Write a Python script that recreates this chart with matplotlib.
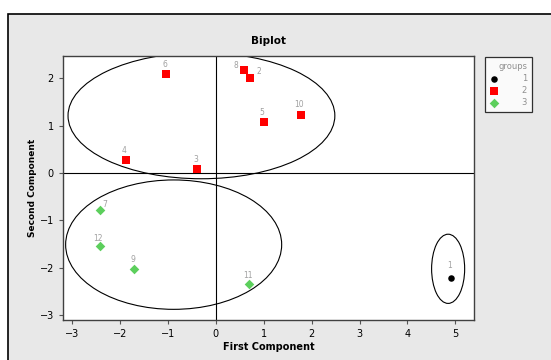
import numpy as np
import matplotlib as mpl
mpl.use('Agg')
import matplotlib.pyplot as plt
from matplotlib.patches import Ellipse, Rectangle

obs_ids = ['1', '2', '3', '4', '5', '6', '7', '8', '9', '10', '11', '12']
pc1 = [4.92, 0.72, -0.40, -1.87, 1.00, -1.03, -2.42, 0.58, -1.70, 1.78, 0.70, -2.42]
pc2 = [-2.21, 2.01, 0.08, 0.28, 1.08, 2.10, -0.77, 2.18, -2.02, 1.22, -2.34, -1.54]
groups = [1, 2, 2, 2, 2, 2, 3, 2, 3, 2, 3, 3]

# label offsets (pixels) for the point numbers
lab_dx = [-2, 9, -1, -2, -2, -2, 5, -8, -1, -2, -1, -2]
lab_dy = [12, 6, 10, 9, 9, 9, 5, 4, 9, 11, 8, 8]

# cluster ellipses: center x, center y, width, height
ell_cx = [-0.30, -0.88, 4.85]
ell_cy = [1.21, -1.51, -2.02]
ell_w = [5.57, 4.51, 0.69]
ell_h = [2.66, 2.73, 1.46]

group_names = ['1', '2', '3']
group_style = {1: dict(marker='o', color='black', s=22),
               2: dict(marker='s', color='#ff0000', s=30),
               3: dict(marker='D', color='#5ccf5c', s=24)}

plt.rcParams['font.family'] = 'DejaVu Sans'

fig = plt.figure(figsize=(5.51, 3.6), dpi=100)
fig.patch.set_facecolor('white')
# grey panel with black frame behind the plot
fig.patches.append(Rectangle((8/551, -0.01), 1.0, 1 - 14/360 + 0.01,
                             transform=fig.transFigure, facecolor='#e8e8e8',
                             edgecolor='black', linewidth=1.2, zorder=-10))

ax = fig.add_axes([63/551, 1 - 320/360, 411/551, 264/360])
ax.set_facecolor('white')

pc1 = np.array(pc1)
pc2 = np.array(pc2)
groups = np.array(groups)

for g in [1, 2, 3]:
    m = groups == g
    st = group_style[g]
    ax.scatter(pc1[m], pc2[m], marker=st['marker'], c=st['color'], s=st['s'],
               linewidths=0, zorder=3, label=group_names[g - 1])

for i, name in enumerate(obs_ids):
    ax.annotate(name, (pc1[i], pc2[i]), xytext=(lab_dx[i], lab_dy[i]),
                textcoords='offset pixels', ha='center', va='center',
                fontsize=5.5, color='#a0a0a0', zorder=4)

for cx, cy, w, h in zip(ell_cx, ell_cy, ell_w, ell_h):
    ax.add_patch(Ellipse((cx, cy), w, h, fill=False, edgecolor='black',
                         linewidth=0.8, zorder=2))

ax.axhline(0, color='black', linewidth=0.8, zorder=1)
ax.axvline(0, color='black', linewidth=0.8, zorder=1)

ax.set_xlim(-3.19, 5.39)
ax.set_ylim(-3.1, 2.47)
ax.set_xticks([-3, -2, -1, 0, 1, 2, 3, 4, 5])
ax.set_yticks([-3, -2, -1, 0, 1, 2])
ax.tick_params(axis='both', labelsize=7, length=3, width=0.8,
               color='#555555', labelcolor='black')
for sp in ax.spines.values():
    sp.set_color('#404040')
    sp.set_linewidth(1.0)

ax.set_title('Biplot', fontsize=7.5, fontweight='bold', pad=9)
ax.set_xlabel('First Component', fontsize=7, fontweight='bold', labelpad=2)
ax.set_ylabel('Second Component', fontsize=6.5, fontweight='bold', labelpad=2)

leg = ax.legend(loc='upper left', bbox_to_anchor=(485/551, 1 - 57/360),
                bbox_transform=fig.transFigure, borderaxespad=0,
                title='groups', fontsize=6, title_fontsize=6,
                labelcolor='#909090', frameon=True, fancybox=False,
                edgecolor='black', handletextpad=2.8, borderpad=0.6,
                labelspacing=0.35, handlelength=1.0, alignment='right')
leg.get_title().set_color('#909090')
leg.get_frame().set_linewidth(0.9)

fig.savefig('out.png', dpi=100)
